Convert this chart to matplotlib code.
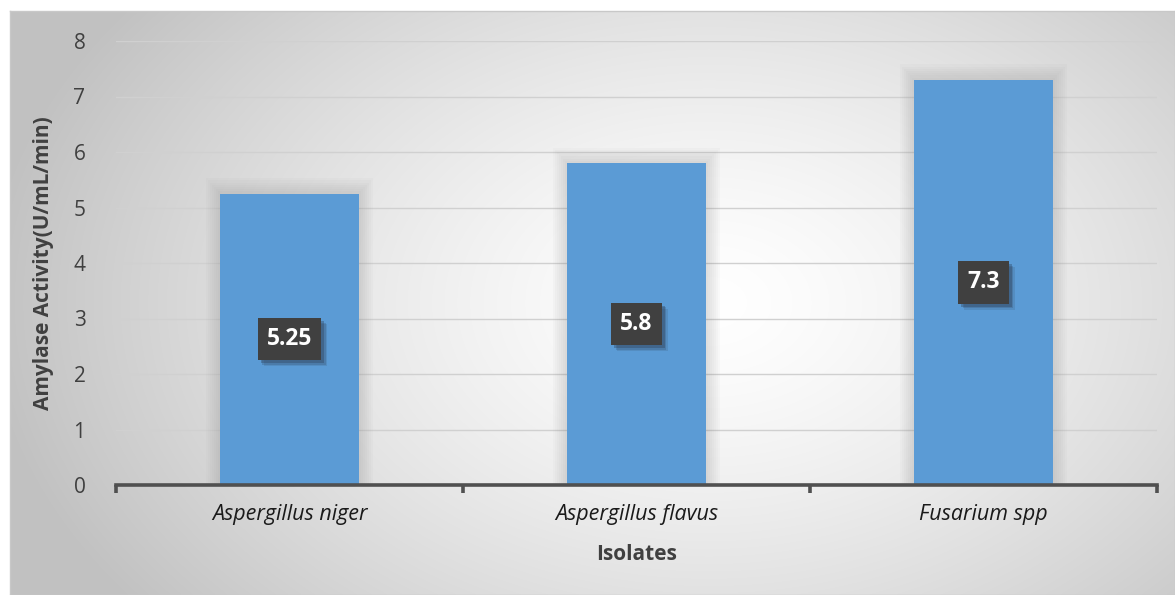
import numpy as np
import matplotlib
matplotlib.use("Agg")
import matplotlib.pyplot as plt
from matplotlib.patches import Rectangle

# ---------------------------------------------------------------------------
# Data
# ---------------------------------------------------------------------------
isolates = ["Aspergillus niger", "Aspergillus flavus", "Fusarium spp"]
activity = [5.25, 5.8, 7.3]
value_labels = ["5.25", "5.8", "7.3"]
y_ticks = [0, 1, 2, 3, 4, 5, 6, 7, 8]

plt.rcParams["font.family"] = ["Open Sans", "DejaVu Sans"]

W, H = 1175, 595
fig = plt.figure(figsize=(W / 100, H / 100), dpi=100, facecolor="white")

# ---------------------------------------------------------------------------
# Chart-area background: radial grey -> white gradient with thin border
# ---------------------------------------------------------------------------
bg_left, bg_bottom = 10 / W, 0.0
bg_w, bg_h = 1 - bg_left, (H - 11) / H
bg = fig.add_axes([bg_left, bg_bottom, bg_w, bg_h], zorder=0)
gx, gy = np.meshgrid(np.linspace(0, 1, 600), np.linspace(0, 1, 300))
cx, cy = 0.60, 0.50
r = np.sqrt(((gx - cx) / 0.62) ** 2 + ((gy - cy) / 0.85) ** 2)
shade = 1.0 - 0.24 * np.clip(r, 0, 1) ** 1.4
bg.imshow(np.dstack([shade] * 3), extent=[0, 1, 0, 1], origin="lower",
          aspect="auto", interpolation="bilinear")
bg.set_xticks([])
bg.set_yticks([])
for s in bg.spines.values():
    s.set_color("#c8c8c8")
    s.set_linewidth(1.0)

# ---------------------------------------------------------------------------
# Plot area
# ---------------------------------------------------------------------------
ax_l, ax_r = 116 / W, 1157 / W
ax_b, ax_t = (H - 485) / H, (H - 41) / H
ax = fig.add_axes([ax_l, ax_b, ax_r - ax_l, ax_t - ax_b], zorder=1)
ax.patch.set_alpha(0)

x = np.arange(len(isolates))
bar_w = 0.40

ax.set_xlim(-0.5, len(isolates) - 0.5)
ax.set_ylim(0, 8)

# gridlines
ax.set_yticks(y_ticks)
ax.yaxis.grid(True, color="#d0d0d0", linewidth=1.0)
ax.set_axisbelow(True)

# soft halo behind each bar
for xi, v in zip(x, activity):
    for k in range(1, 8):
        dx = 0.006 * k
        dy = 0.04 * k
        ax.add_patch(Rectangle((xi - bar_w / 2 - dx, 0), bar_w + 2 * dx,
                               v + dy, facecolor="#808080", alpha=0.035,
                               edgecolor="none", zorder=1.5))

ax.bar(x, activity, width=bar_w, color="#5b9bd5", zorder=2)

# value labels in dark boxes
label_texts = []
for xi, v, lab in zip(x, activity, value_labels):
    t = ax.text(xi, v / 2, lab, ha="center", va="center", fontsize=16.5,
                fontweight="bold", color="white", zorder=4,
                bbox=dict(boxstyle="square,pad=0.4", facecolor="#404040",
                          edgecolor="none"))
    label_texts.append(t)

# axes styling
for side in ["top", "right", "left"]:
    ax.spines[side].set_visible(False)
ax.spines["bottom"].set_color("#505050")
ax.spines["bottom"].set_linewidth(2.6)
ax.spines["bottom"].set_zorder(5)

ax.set_xticks(x)
ax.set_xticklabels(isolates, fontstyle="italic", fontsize=15.5, color="#1a1a1a")
ax.set_xticks(np.arange(len(isolates) + 1) - 0.5, minor=True)
ax.tick_params(axis="x", which="major", length=0, pad=14)
ax.tick_params(axis="x", which="minor", length=6, width=2.6, color="#505050")
ax.tick_params(axis="y", length=0, pad=22, labelsize=15, labelcolor="#404040")

ax.set_xlabel("Isolates", fontsize=15, fontweight="bold", color="#404040",
              labelpad=13)
ax.set_ylabel("Amylase Activity(U/mL/min)", fontsize=15, fontweight="bold",
              color="#404040", labelpad=14)

# drop shadows for the label boxes, offset down-right by a few pixels
fig.canvas.draw()
to_data = ax.transData.inverted()
for t in label_texts:
    bb = t.get_bbox_patch().get_window_extent()
    for k, a in [(6, 0.15), (4.5, 0.22), (3, 0.35)]:
        (x0, y0), (x1, y1) = to_data.transform([(bb.x0 + k, bb.y0 - k),
                                                 (bb.x1 + k, bb.y1 - k)])
        ax.add_patch(Rectangle((x0, y0), x1 - x0, y1 - y0,
                               facecolor="#2c3e55", alpha=a,
                               edgecolor="none", zorder=3))

fig.savefig("out.png", dpi=100, facecolor="white")
